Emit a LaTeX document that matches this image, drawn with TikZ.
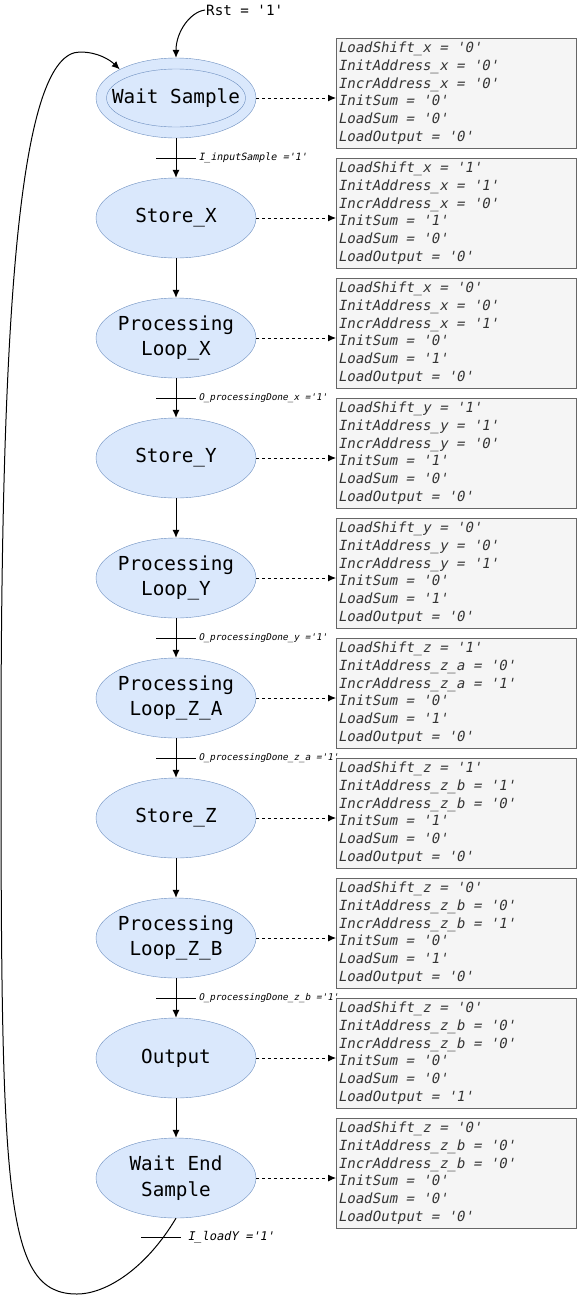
\documentclass[tikz,border=0pt]{standalone}
\usepackage{fontspec}
\setmonofont{DejaVu Sans Mono}
\newfontfamily\slantmono{DejaVu Sans Mono}[FakeSlant=0.2]
\usetikzlibrary{shapes.geometric}
\usetikzlibrary{arrows.meta}
\definecolor{statefill}{HTML}{DAE8FC}
\definecolor{stateline}{HTML}{6C8EBF}
\definecolor{boxfill}{HTML}{F5F5F5}
\definecolor{boxline}{HTML}{666666}
\definecolor{boxtext}{HTML}{333333}
\tikzset{
  state/.style={ellipse, draw=stateline, fill=statefill, minimum width=160pt, minimum height=80pt, inner sep=-10pt, align=center, font=\ttfamily\fontsize{19.3}{25.6}\selectfont},
  outbox/.style={rectangle, draw=boxline, fill=boxfill, text=boxtext, anchor=north west, minimum width=240pt, minimum height=110pt, text width=236pt, inner sep=2pt, align=left, font=\slantmono\fontsize{14}{17.8}\selectfont, execute at begin node={\spaceskip=0.602em\xspaceskip=0.602em\relax}},
  trans/.style={-{Latex[length=8pt, width=7pt]}, line width=1pt},
  outarr/.style={-{Latex[length=8pt, width=7pt]}, dash pattern=on 3pt off 3pt, line width=1pt},
  cond/.style={right, inner sep=2pt, font=\slantmono\fontsize{10}{12}\selectfont}
}

\begin{document}
\begin{tikzpicture}[x=1pt, y=-1pt]
\useasboundingbox (0,0) rectangle (577,1296);
\node[state] (ws) at (176,98) {Wait Sample};
\node[ellipse, draw=stateline, minimum width=139pt, minimum height=58pt, inner sep=0pt] (wsin) at (ws.center) {};
\node[state] (sx) at (176,218) {Store\_X};
\node[state] (plx) at (176,338) {Processing\\Loop\_X};
\node[state] (sy) at (176,458) {Store\_Y};
\node[state] (ply) at (176,578) {Processing\\Loop\_Y};
\node[state] (plza) at (176,698) {Processing\\Loop\_Z\_A};
\node[state] (sz) at (176,818) {Store\_Z};
\node[state] (plzb) at (176,938) {Processing\\Loop\_Z\_B};
\node[state] (outp) at (176,1058) {Output};
\node[state] (wes) at (176,1178) {Wait End\\Sample};

\node[outbox] (b1) at (336,38) {LoadShift\_x = '0'\\InitAddress\_x = '0'\\IncrAddress\_x = '0'\\InitSum = '0'\\LoadSum = '0'\\LoadOutput = '0'};
\node[outbox] (b2) at (336,158) {LoadShift\_x = '1'\\InitAddress\_x = '1'\\IncrAddress\_x = '0'\\InitSum = '1'\\LoadSum = '0'\\LoadOutput = '0'};
\node[outbox] (b3) at (336,278) {LoadShift\_x = '0'\\InitAddress\_x = '0'\\IncrAddress\_x = '1'\\InitSum = '0'\\LoadSum = '1'\\LoadOutput = '0'};
\node[outbox] (b4) at (336,398) {LoadShift\_y = '1'\\InitAddress\_y = '1'\\IncrAddress\_y = '0'\\InitSum = '1'\\LoadSum = '0'\\LoadOutput = '0'};
\node[outbox] (b5) at (336,518) {LoadShift\_y = '0'\\InitAddress\_y = '0'\\IncrAddress\_y = '1'\\InitSum = '0'\\LoadSum = '1'\\LoadOutput = '0'};
\node[outbox] (b6) at (336,638) {LoadShift\_z = '1'\\InitAddress\_z\_a = '0'\\IncrAddress\_z\_a = '1'\\InitSum = '0'\\LoadSum = '1'\\LoadOutput = '0'};
\node[outbox] (b7) at (336,758) {LoadShift\_z = '1'\\InitAddress\_z\_b = '1'\\IncrAddress\_z\_b = '0'\\InitSum = '1'\\LoadSum = '0'\\LoadOutput = '0'};
\node[outbox] (b8) at (336,878) {LoadShift\_z = '0'\\InitAddress\_z\_b = '0'\\IncrAddress\_z\_b = '1'\\InitSum = '0'\\LoadSum = '1'\\LoadOutput = '0'};
\node[outbox] (b9) at (336,998) {LoadShift\_z = '0'\\InitAddress\_z\_b = '0'\\IncrAddress\_z\_b = '0'\\InitSum = '0'\\LoadSum = '0'\\LoadOutput = '1'};
\node[outbox] (b10) at (336,1118) {LoadShift\_z = '0'\\InitAddress\_z\_b = '0'\\IncrAddress\_z\_b = '0'\\InitSum = '0'\\LoadSum = '0'\\LoadOutput = '0'};

\draw[outarr] (ws.east) -- (ws.east -| b1.west);
\draw[outarr] (sx.east) -- (sx.east -| b2.west);
\draw[outarr] (plx.east) -- (plx.east -| b3.west);
\draw[outarr] (sy.east) -- (sy.east -| b4.west);
\draw[outarr] (ply.east) -- (ply.east -| b5.west);
\draw[outarr] (plza.east) -- (plza.east -| b6.west);
\draw[outarr] (sz.east) -- (sz.east -| b7.west);
\draw[outarr] (plzb.east) -- (plzb.east -| b8.west);
\draw[outarr] (outp.east) -- (outp.east -| b9.west);
\draw[outarr] (wes.east) -- (wes.east -| b10.west);

\node[right, inner sep=1pt, font=\ttfamily\fontsize{14.2}{16}\selectfont] (rst) at (205,10) {Rst = '1'};
\draw[trans] (rst.west) .. controls (190,12) and (176,32) .. (ws.north);

\draw[trans] (ws.south) -- coordinate[midway] (m1) (sx.north);
\draw[line width=1pt] ([xshift=-20pt]m1) -- ([xshift=20pt]m1) node[cond] {I\_inputSample ='1'};
\draw[trans] (sx.south) -- (plx.north);
\draw[trans] (plx.south) -- coordinate[midway] (m3) (sy.north);
\draw[line width=1pt] ([xshift=-20pt]m3) -- ([xshift=20pt]m3) node[cond, font=\slantmono\fontsize{9.3}{11}\selectfont] {O\_processingDone\_x ='1'};
\draw[trans] (sy.south) -- (ply.north);
\draw[trans] (ply.south) -- coordinate[midway] (m5) (plza.north);
\draw[line width=1pt] ([xshift=-20pt]m5) -- ([xshift=20pt]m5) node[cond, font=\slantmono\fontsize{9.3}{11}\selectfont] {O\_processingDone\_y ='1'};
\draw[trans] (plza.south) -- coordinate[midway] (m6) (sz.north);
\draw[line width=1pt] ([xshift=-20pt]m6) -- ([xshift=20pt]m6) node[cond, font=\slantmono\fontsize{9.3}{11}\selectfont] {O\_processingDone\_z\_a ='1'};
\draw[trans] (sz.south) -- (plzb.north);
\draw[trans] (plzb.south) -- coordinate[midway] (m8) (outp.north);
\draw[line width=1pt] ([xshift=-20pt]m8) -- ([xshift=20pt]m8) node[cond, font=\slantmono\fontsize{9.3}{11}\selectfont] {O\_processingDone\_z\_b ='1'};
\draw[trans] (outp.south) -- (wes.north);

\coordinate (lb) at (77,1294);
\coordinate (ll) at (1,750);
\coordinate (lt) at (80,52);
\draw[trans] (wes.south) .. controls (145,1270) and (105,1294) .. (lb) .. controls (5,1294) and (1,1200) .. (ll) .. controls (1,300) and (20,52) .. (lt) .. controls (98,52) and (110,60) .. (ws.153);
\coordinate (m10) at (161,1237);
\draw[line width=1pt] ([xshift=-20pt]m10) -- ([xshift=20pt]m10) node[cond, font=\slantmono\fontsize{12}{14}\selectfont, xshift=4pt] {I\_loadY ='1'};
\end{tikzpicture}
\end{document}
